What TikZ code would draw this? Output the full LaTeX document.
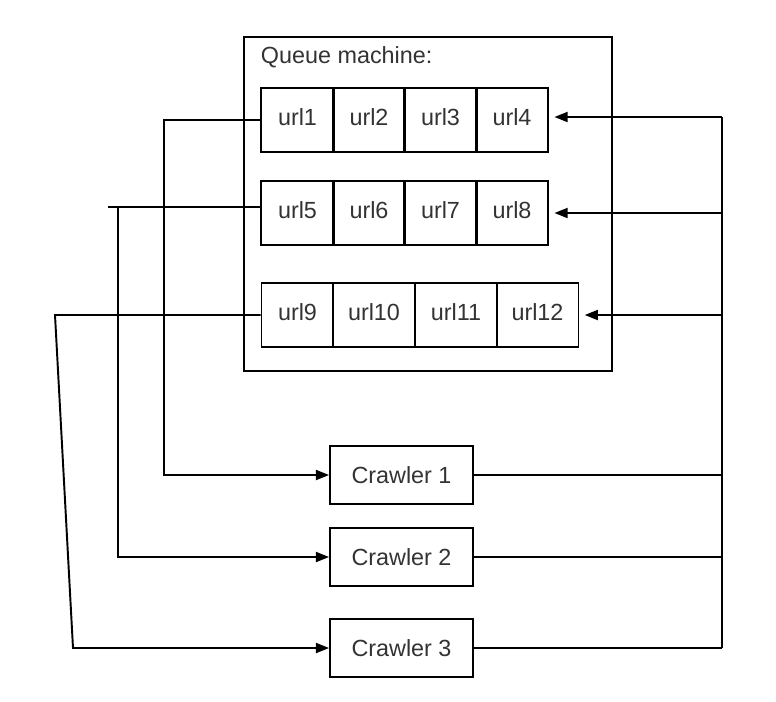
\documentclass[tikz,border=0pt]{standalone}
\usepackage{fontspec}
\setmainfont{Liberation Sans}
\usetikzlibrary{arrows.meta}
\begin{document}
\begin{tikzpicture}[x=0.02cm, y=-0.02cm, line width=1.1pt,
  lbl/.style={font=\fontsize{13.3}{16}\selectfont, text=black!80},
  cell/.style={draw, lbl, inner sep=0pt, minimum height=1.28cm, text depth=0.38em},
  crawler/.style={draw, lbl, inner sep=0pt, minimum width=2.86cm, minimum height=1.16cm},
  arr/.style={-{Triangle[length=7.5pt, width=5.7pt]}}]
  \useasboundingbox (0,0) rectangle (776,701);
  \node[draw, minimum width=7.36cm, minimum height=6.68cm] (queue) at (428,204) {};
  \node[lbl, anchor=west, inner sep=0pt] (title) at (260,57) {Queue machine:};
  % first queue
  \node[cell, minimum width=1.45cm] (url1) at (297.5,120) {url1};
  \node[cell, minimum width=1.45cm] (url2) at (369,120) {url2};
  \node[cell, minimum width=1.45cm] (url3) at (440.5,120) {url3};
  \node[cell, minimum width=1.45cm] (url4) at (512,120) {url4};
  % second queue
  \node[cell, minimum width=1.45cm] (url5) at (297.5,213) {url5};
  \node[cell, minimum width=1.45cm] (url6) at (369,213) {url6};
  \node[cell, minimum width=1.45cm] (url7) at (440.5,213) {url7};
  \node[cell, minimum width=1.45cm] (url8) at (512,213) {url8};
  % third queue
  \node[cell, minimum width=1.44cm] (url9) at (297.5,315) {url9};
  \node[cell, minimum width=1.66cm] (url10) at (374,315) {url10};
  \node[cell, minimum width=1.66cm] (url11) at (456,315) {url11};
  \node[cell, minimum width=1.64cm] (url12) at (537.5,315) {url12};
  % crawlers
  \node[crawler] (crawler1) at (401.5,475) {Crawler 1};
  \node[crawler] (crawler2) at (401.5,557) {Crawler 2};
  \node[crawler] (crawler3) at (401.5,648) {Crawler 3};
  \coordinate (bustop) at (722,117);
  \coordinate (busbot) at (722,648);
  \coordinate (turn1) at (164,120);
  \coordinate (turn2a) at (108,207);
  \coordinate (turn2b) at (118,207);
  \coordinate (turn3a) at (55,315);
  \coordinate (turn3b) at (73,648);
  % queues to crawlers
  \draw[arr] (url1.west) -- (turn1) |- (crawler1.west);
  \draw (url5.west |- turn2a) -- (turn2a);
  \draw[arr] (turn2b) |- (crawler2.west);
  \draw[arr] (url9.west) -- (turn3a) -- (turn3b) -- (crawler3.west);
  % crawlers back to queues
  \draw (bustop) -- (busbot);
  \draw (crawler1.east) -- (crawler1.east -| bustop);
  \draw (crawler2.east) -- (crawler2.east -| bustop);
  \draw (crawler3.east) -- (busbot);
  \draw[arr, shorten >=3pt] (bustop) -- (url4.east |- bustop);
  \draw[arr, shorten >=3pt] (url8.east -| bustop) -- (url8.east);
  \draw[arr, shorten >=3pt] (url12.east -| bustop) -- (url12.east);
\end{tikzpicture}
\end{document}
